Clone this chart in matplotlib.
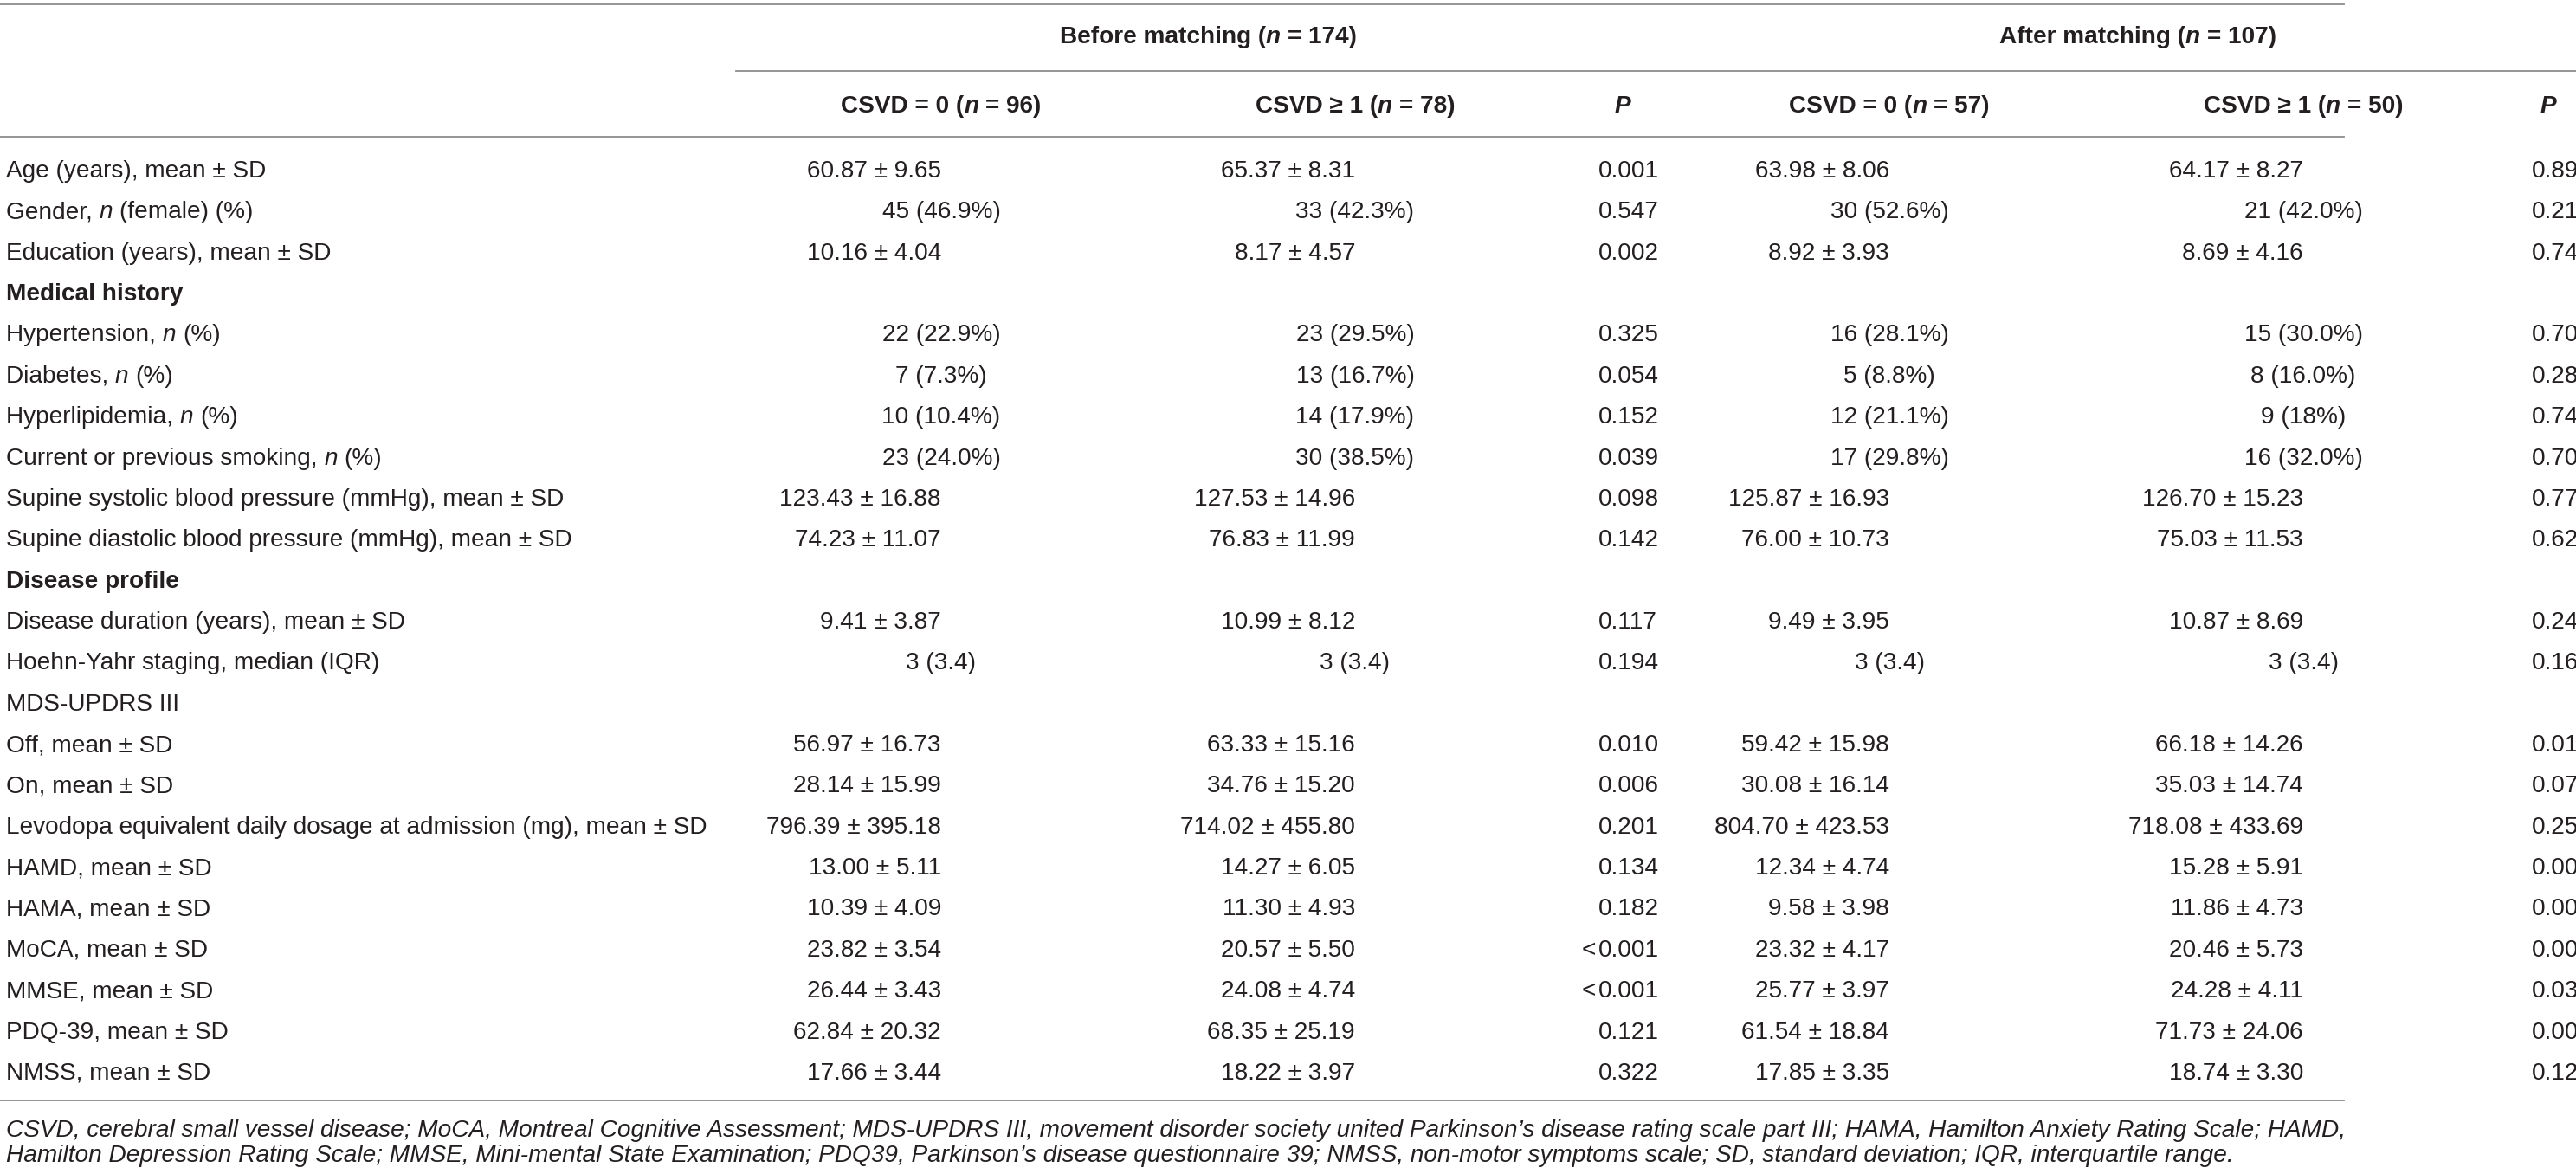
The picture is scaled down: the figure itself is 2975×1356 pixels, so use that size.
import matplotlib
matplotlib.use('Agg')
import matplotlib.pyplot as plt

plt.rcParams['font.family'] = ['Liberation Sans', 'DejaVu Sans']

W, H = 2975, 1356
INK = '#231f20'
RULE = '#8c8c8c'
FS = 20.2        # about 28 px at dpi 100
FS_NOTE = 20.2

# ---- table content ----
labels = [
    "Age (years), mean ± SD",
    "Gender, *n* (female) (%)",
    "Education (years), mean ± SD",
    "Medical history",
    "Hypertension, *n* (%)",
    "Diabetes, *n* (%)",
    "Hyperlipidemia, *n* (%)",
    "Current or previous smoking, *n* (%)",
    "Supine systolic blood pressure (mmHg), mean ± SD",
    "Supine diastolic blood pressure (mmHg), mean ± SD",
    "Disease profile",
    "Disease duration (years), mean ± SD",
    "Hoehn-Yahr staging, median (IQR)",
    "MDS-UPDRS III",
    "Off, mean ± SD",
    "On, mean ± SD",
    "Levodopa equivalent daily dosage at admission (mg), mean ± SD",
    "HAMD, mean ± SD",
    "HAMA, mean ± SD",
    "MoCA, mean ± SD",
    "MMSE, mean ± SD",
    "PDQ-39, mean ± SD",
    "NMSS, mean ± SD",
]
section_rows = ["Medical history", "Disease profile"]

before_csvd0 = ["60.87 ± 9.65", "45 (46.9%)", "10.16 ± 4.04", "", "22 (22.9%)",
                "7 (7.3%)", "10 (10.4%)", "23 (24.0%)", "123.43 ± 16.88",
                "74.23 ± 11.07", "", "9.41 ± 3.87", "3 (3.4)", "", "56.97 ± 16.73",
                "28.14 ± 15.99", "796.39 ± 395.18", "13.00 ± 5.11", "10.39 ± 4.09",
                "23.82 ± 3.54", "26.44 ± 3.43", "62.84 ± 20.32", "17.66 ± 3.44"]
before_csvd1 = ["65.37 ± 8.31", "33 (42.3%)", "8.17 ± 4.57", "", "23 (29.5%)",
                "13 (16.7%)", "14 (17.9%)", "30 (38.5%)", "127.53 ± 14.96",
                "76.83 ± 11.99", "", "10.99 ± 8.12", "3 (3.4)", "", "63.33 ± 15.16",
                "34.76 ± 15.20", "714.02 ± 455.80", "14.27 ± 6.05", "11.30 ± 4.93",
                "20.57 ± 5.50", "24.08 ± 4.74", "68.35 ± 25.19", "18.22 ± 3.97"]
before_p = ["0.001", "0.547", "0.002", "", "0.325", "0.054", "0.152", "0.039",
            "0.098", "0.142", "", "0.117", "0.194", "", "0.010", "0.006", "0.201",
            "0.134", "0.182", "<0.001", "<0.001", "0.121", "0.322"]

after_csvd0 = ["63.98 ± 8.06", "30 (52.6%)", "8.92 ± 3.93", "", "16 (28.1%)",
               "5 (8.8%)", "12 (21.1%)", "17 (29.8%)", "125.87 ± 16.93",
               "76.00 ± 10.73", "", "9.49 ± 3.95", "3 (3.4)", "", "59.42 ± 15.98",
               "30.08 ± 16.14", "804.70 ± 423.53", "12.34 ± 4.74", "9.58 ± 3.98",
               "23.32 ± 4.17", "25.77 ± 3.97", "61.54 ± 18.84", "17.85 ± 3.35"]
after_csvd1 = ["64.17 ± 8.27", "21 (42.0%)", "8.69 ± 4.16", "", "15 (30.0%)",
               "8 (16.0%)", "9 (18%)", "16 (32.0%)", "126.70 ± 15.23",
               "75.03 ± 11.53", "", "10.87 ± 8.69", "3 (3.4)", "", "66.18 ± 14.26",
               "35.03 ± 14.74", "718.08 ± 433.69", "15.28 ± 5.91", "11.86 ± 4.73",
               "20.46 ± 5.73", "24.28 ± 4.11", "71.73 ± 24.06", "18.74 ± 3.30"]
# last column is cut off at the picture edge, last digits are guesses
after_p = ["0.892", "0.217", "0.742", "", "0.706", "0.283", "0.742", "0.706",
           "0.771", "0.627", "", "0.245", "0.166", "", "0.017", "0.071", "0.259",
           "0.006", "0.008", "0.005", "0.037", "0.008", "0.125"]

group_headers = ["Before matching (*n* = 174)", "After matching (*n* = 107)"]
col_headers = ["CSVD = 0 (*n* = 96)", "CSVD ≥ 1 (*n* = 78)",
               "CSVD = 0 (*n* = 57)", "CSVD ≥ 1 (*n* = 50)"]

footnote = [
    "CSVD, cerebral small vessel disease; MoCA, Montreal Cognitive Assessment; "
    "MDS-UPDRS III, movement disorder society united Parkinson’s disease rating scale "
    "part III; HAMA, Hamilton Anxiety Rating Scale; HAMD,",
    "Hamilton Depression Rating Scale; MMSE, Mini-mental State Examination; PDQ39, "
    "Parkinson’s disease questionnaire 39; NMSS, non-motor symptoms scale; "
    "SD, standard deviation; IQR, interquartile range.",
]

# ---- layout (pixels) ----
val_x = [1087, 1565, 2182, 2660]
p_x = [1846, 2924]
p_head_x = [1874, 2943]
group_x = [1395, 2469]
row0 = 205.0
row_h = 47.36
table_right = 2707

fig = plt.figure(figsize=(W / 100, H / 100), dpi=100)
ax = fig.add_axes([0, 0, 1, 1])
ax.set_xlim(0, W)
ax.set_ylim(H, 0)
ax.axis('off')
renderer = fig.canvas.get_renderer()


def ink_width(s, size, weight, style):
    t = ax.text(0, 0, s, fontsize=size, fontweight=weight, fontstyle=style)
    w = t.get_window_extent(renderer).width
    t.remove()
    return w


def advance(s, size, weight, style):
    if s == "":
        return 0.0
    return ink_width(s + "x", size, weight, style) - ink_width("x", size, weight, style)


def rich(x, y, s, ha='left', size=FS, weight='normal', base_style='normal'):
    # pieces between * are italic
    parts = s.split('*')
    styles = [base_style if i % 2 == 0 else 'italic' for i in range(len(parts))]
    sp = ink_width("x x", size, weight, 'normal') - ink_width("xx", size, weight, 'normal')
    widths = [advance(p, size, weight, st) for p, st in zip(parts, styles)]
    total = sum(widths)
    if ha == 'center':
        x -= total / 2
    elif ha == 'right':
        x -= total
    for p, st, w in zip(parts, styles, widths):
        lead = len(p) - len(p.lstrip(' '))
        if p.strip():
            ax.text(x + lead * sp, y, p.lstrip(' '), fontsize=size, fontweight=weight,
                    fontstyle=st, color=INK, ha='left', va='baseline')
        x += w


# rules
ax.plot([0, table_right], [5, 5], color=RULE, lw=1.3)
ax.plot([850, W], [82, 82], color=RULE, lw=1.3)
ax.plot([0, table_right], [158, 158], color=RULE, lw=1.3)
ax.plot([0, table_right], [1271, 1271], color=RULE, lw=1.3)

# headers
for gx, txt in zip(group_x, group_headers):
    rich(gx, 50, txt, ha='center', weight='bold')
for cx, txt in zip(val_x, col_headers):
    rich(cx, 130, txt, ha='center', weight='bold')
for px in p_head_x:
    ax.text(px, 130, "P", fontsize=FS, fontweight='bold', fontstyle='italic',
            color=INK, ha='center', va='baseline')

# body
columns = [before_csvd0, before_csvd1, after_csvd0, after_csvd1]
for i, lab in enumerate(labels):
    y = row0 + i * row_h
    bold = 'bold' if lab in section_rows else 'normal'
    rich(7, y, lab, weight=bold)
    for cx, col in zip(val_x, columns):
        v = col[i]
        if not v:
            continue
        ha = 'right' if '±' in v else 'center'
        ax.text(cx, y, v, fontsize=FS, color=INK, ha=ha, va='baseline')
    for px, col in zip(p_x, [before_p, after_p]):
        v = col[i]
        if not v:
            continue
        if v.startswith('<'):
            ax.text(px - 3, y, '<', fontsize=FS, color=INK, ha='right', va='baseline')
            v = v[1:]
        ax.text(px, y, v, fontsize=FS, color=INK, ha='left', va='baseline')

# footnote
for k, line in enumerate(footnote):
    ax.text(7, 1313 + k * 29.5, line, fontsize=FS_NOTE, fontstyle='italic',
            color=INK, ha='left', va='baseline')

fig.savefig('out.png', dpi=100, facecolor='white')
